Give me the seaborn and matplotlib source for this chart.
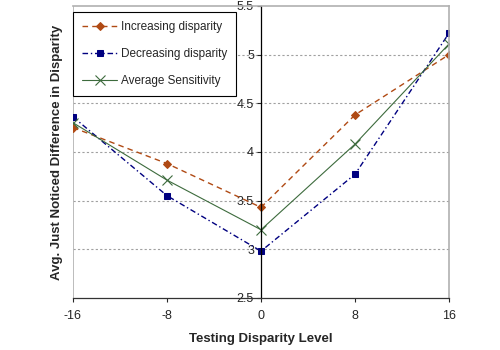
import matplotlib
matplotlib.use("Agg")
import matplotlib.pyplot as plt
import seaborn as sns
import pandas as pd

levels = [-16, -8, 0, 8, 16]
increasing = [4.25, 3.88, 3.43, 4.38, 5.00]
decreasing = [4.36, 3.55, 2.98, 3.77, 5.22]
average = [4.30, 3.71, 3.20, 4.08, 5.11]
yticks = [2.5, 3, 3.5, 4, 4.5, 5, 5.5]

sns.set_style("white")
plt.rcParams['font.family'] = ['Liberation Sans', 'DejaVu Sans']

fig = plt.figure(figsize=(5, 3.5), dpi=100)
ax = fig.add_axes([0.146, 0.149, 0.752, 0.834])

df_inc = pd.DataFrame({'x': levels, 'y': increasing})
df_dec = pd.DataFrame({'x': levels, 'y': decreasing})
df_avg = pd.DataFrame({'x': levels, 'y': average})

sns.lineplot(data=df_inc, x='x', y='y', ax=ax, color='#B04A14', lw=1.0,
             marker='D', markersize=4, markeredgecolor='#B04A14',
             label='Increasing disparity')
ax.lines[-1].set_dashes([4, 3])
sns.lineplot(data=df_dec, x='x', y='y', ax=ax, color='#000080', lw=1.0,
             marker='s', markersize=4.5, markeredgecolor='#000080',
             label='Decreasing disparity')
ax.lines[-1].set_dashes([4, 2, 1, 2])
sns.lineplot(data=df_avg, x='x', y='y', ax=ax, color='#3D6B3D', lw=0.8,
             marker='x', markersize=7, markeredgewidth=0.8,
             markeredgecolor='#3D6B3D',
             label='Average Sensitivity')

ax.set_xlim(-16, 16)
ax.set_ylim(2.5, 5.5)
ax.set_xticks(levels)
ax.set_xticklabels([str(v) for v in levels])
ax.set_yticks(yticks)
ax.set_yticklabels([f'{v:g}' for v in yticks])

for v in yticks[1:-1]:
    ax.axhline(v, color='#A0A0A0', lw=0.8, ls=(0, (2, 2)), zorder=0)

ax.spines['left'].set_position(('data', 0))
ax.spines['left'].set_color('black')
ax.spines['left'].set_linewidth(0.9)
ax.spines['bottom'].set_color('#333333')
ax.spines['bottom'].set_linewidth(0.9)
for s in ['top', 'right']:
    ax.spines[s].set_color('#B0B0B0')
    ax.spines[s].set_linewidth(1.2)
ax.axvline(-16, color='#B0B0B0', lw=1.2, zorder=0)

ax.tick_params(axis='both', labelsize=9, direction='out', length=3, width=0.8,
               left=True, bottom=True, pad=2)
ax.tick_params(axis='x', pad=6)

ax.set_xlabel('Testing Disparity Level', fontsize=9.5, fontweight='bold', labelpad=8)
ax.set_ylabel('')
fig.text(0.115, 0.566, 'Avg. Just Noticed Difference in Disparity', rotation=90,
         fontsize=9.5, fontweight='bold', ha='center', va='center')

leg = ax.legend(loc='upper left', bbox_to_anchor=(0.0, 0.98), fontsize=8.5,
                frameon=True, fancybox=False, edgecolor='black', framealpha=1,
                handlelength=3.0, handletextpad=0.3, labelspacing=1.3,
                borderpad=0.75, borderaxespad=0)
leg.get_frame().set_linewidth(0.8)

fig.savefig('out.png', dpi=100)
